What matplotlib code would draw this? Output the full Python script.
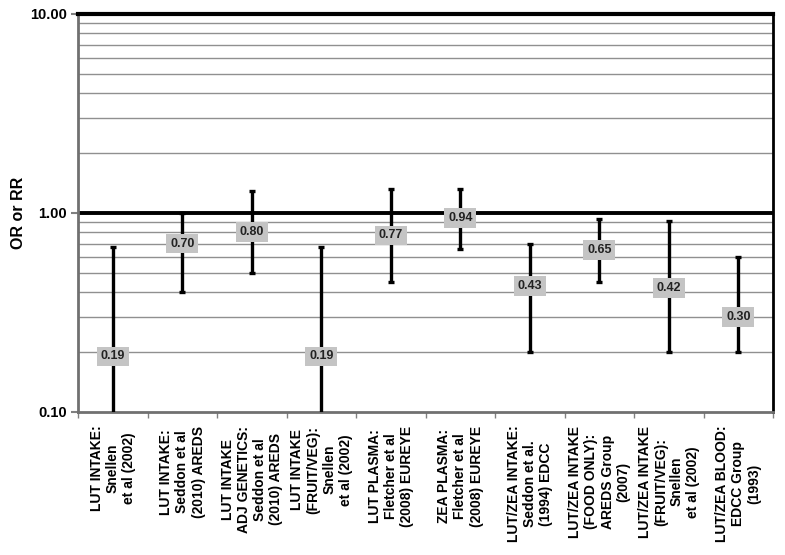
import matplotlib.pyplot as plt
from matplotlib.ticker import FixedLocator, NullFormatter
import numpy as np

plt.rcParams['font.family'] = ['Liberation Sans', 'DejaVu Sans']

labels = [
    "LUT INTAKE:\nSnellen\net al (2002)",
    "LUT INTAKE:\nSeddon et al\n(2010) AREDS",
    "LUT INTAKE\nADJ GENETICS:\nSeddon et al\n(2010) AREDS",
    "LUT INTAKE\n(FRUIT/VEG):\nSnellen\net al (2002)",
    "LUT PLASMA:\nFletcher et al\n(2008) EUREYE",
    "ZEA PLASMA:\nFletcher et al\n(2008) EUREYE",
    "LUT/ZEA INTAKE:\nSeddon et al.\n(1994) EDCC",
    "LUT/ZEA INTAKE\n(FOOD ONLY):\nAREDS Group\n(2007)",
    "LUT/ZEA INTAKE\n(FRUIT/VEG):\nSnellen\net al (2002)",
    "LUT/ZEA BLOOD:\nEDCC Group\n(1993)",
]
est = [0.19, 0.70, 0.80, 0.19, 0.77, 0.94, 0.43, 0.65, 0.42, 0.30]
lower = [0.05, 0.40, 0.50, 0.05, 0.45, 0.66, 0.20, 0.45, 0.20, 0.20]
upper = [0.67, 1.00, 1.29, 0.67, 1.32, 1.32, 0.70, 0.93, 0.91, 0.60]

fig = plt.figure(figsize=(7.85, 5.55), dpi=100)
ax = fig.add_axes([0.0994, 0.258, 0.8856, 0.717])

x = np.arange(len(est))
est_a = np.array(est)
yerr = [est_a - np.array(lower), np.array(upper) - est_a]

ax.set_yscale('log')
ax.set_ylim(0.1, 10)
ax.set_xlim(-0.5, len(est) - 0.5)

# grid at minor ticks
ax.yaxis.set_minor_locator(FixedLocator([v * d for d in (0.1, 1) for v in range(2, 10)]))
ax.yaxis.set_minor_formatter(NullFormatter())
ax.grid(True, which='minor', axis='y', color='#909090', linewidth=1.0, zorder=1)
ax.axhline(1.0, color='black', linewidth=2.8, zorder=2)

ax.errorbar(x, est, yerr=yerr, fmt='none', ecolor='black', elinewidth=2.4,
            capsize=2.5, capthick=2.4, zorder=3)

for xi, v in zip(x, est):
    ax.text(xi, v, f"{v:.2f}", ha='center', va='center', fontsize=9,
            fontweight='bold', color='#222222', zorder=5,
            bbox=dict(boxstyle='square,pad=0.3', facecolor='#c4c4c4', edgecolor='none'))

ax.set_yticks([0.1, 1, 10])
ax.set_yticklabels(['0.10', '1.00', '10.00'], fontsize=10.5, fontweight='bold')
ax.tick_params(axis='y', which='major', length=5, width=1.5, color='#808080', pad=3)
ax.tick_params(axis='y', which='minor', length=0)

ax.set_xticks(x)
ax.set_xticklabels(labels, rotation=90, fontsize=10, fontweight='bold',
                   va='top', ha='center', multialignment='center', linespacing=1.2)
ax.set_xticks(np.arange(-0.5, len(est)), minor=True)
ax.tick_params(axis='x', which='major', length=0, pad=10)
ax.tick_params(axis='x', which='minor', length=4, width=1.0, color='#808080')

ax.set_ylabel('OR or RR', fontsize=11.5, fontweight='bold')
ax.yaxis.set_label_coords(-0.075, 0.5)

ax.spines['left'].set_color('#707070')
ax.spines['left'].set_linewidth(2)
ax.spines['bottom'].set_color('#707070')
ax.spines['bottom'].set_linewidth(2)
ax.spines['top'].set_color('black')
ax.spines['top'].set_linewidth(3)
ax.spines['right'].set_color('black')
ax.spines['right'].set_linewidth(2)

fig.savefig('out.png', dpi=100)
